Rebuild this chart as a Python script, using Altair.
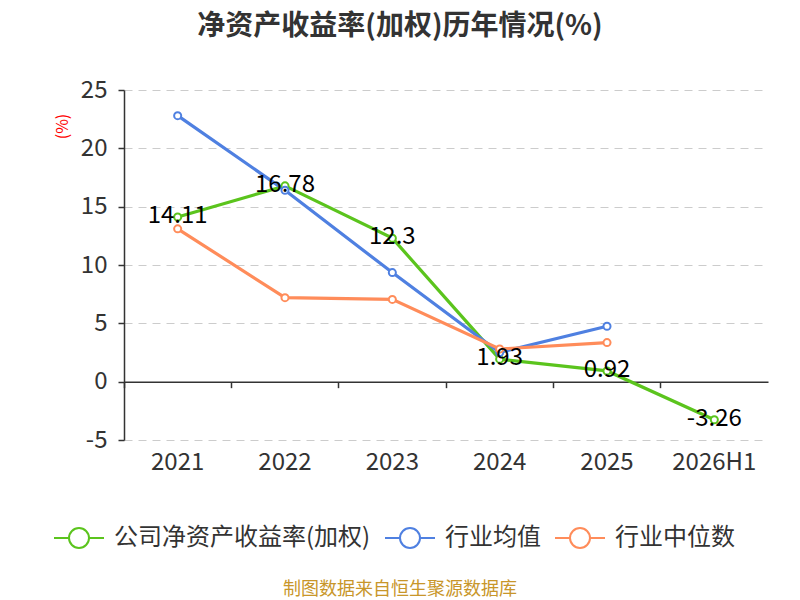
import altair as alt
import pandas as pd

years = ["2021", "2022", "2023", "2024", "2025", "2026H1"]
company = [14.11, 16.78, 12.3, 1.93, 0.92, -3.26]
ind_mean = [22.8, 16.4, 9.35, 2.5, 4.75, None]
ind_median = [13.1, 7.2, 7.05, 2.8, 3.35, None]
series = ["公司净资产收益率(加权)", "行业均值", "行业中位数"]
colors = ["#5bc41d", "#4f80e1", "#ff8c5a"]
y_ticks = [-5, 0, 5, 10, 15, 20, 25]
title_text = "净资产收益率(加权)历年情况(%)"
source_text = "制图数据来自恒生聚源数据库"

rows = []
for name, vals in zip(series, [company, ind_mean, ind_median]):
    for yr, v in zip(years, vals):
        if v is not None:
            rows.append({"year": yr, "series": name, "value": v})
df = pd.DataFrame(rows)
labels_df = pd.DataFrame({"year": years, "value": company,
                          "label": [f"{v:g}" for v in company]})

FONT = "Noto Sans CJK SC"
W, H = 644, 350
zero_px = H * 25 / 30

xscale = alt.Scale(type="band", domain=years, paddingInner=0, paddingOuter=0)
yscale = alt.Scale(domain=[-5, 25], nice=False, zero=False)

yaxis = alt.Axis(values=y_ticks, title="(%)", titleColor="red", titleFontSize=16,
                 titleFontWeight="normal", titleX=-62, titleY=36, titleAngle=-90,
                 titleAlign="center", titleBaseline="middle",
                 labelFontSize=24, labelColor="#333", labelPadding=11,
                 labelExpr="'' + datum.value",
                 tickSize=6, tickColor="#333", tickWidth=1.5,
                 domainColor="#333", domainWidth=1.5,
                 grid=True, gridDash=[8, 6], gridColor="#cccccc", gridWidth=1)

label_axis = alt.Axis(title=None, orient="bottom", domain=False, ticks=False,
                      grid=False, labelFontSize=24, labelColor="#333",
                      labelPadding=10, labelAngle=0, bandPosition=0.5)

zero_axis = alt.Axis(title=None, orient="bottom", offset=-(H - zero_px), labels=False,
                     domain=True, domainColor="#333", domainWidth=1.5,
                     ticks=True, tickSize=6, tickColor="#333", tickWidth=1.5,
                     grid=False, bandPosition=0)

sym = "M-1,0L-0.4,0M0.4,0L1,0M0.4,0A0.4,0.4 0 1,1 -0.4,0A0.4,0.4 0 1,1 0.4,0Z"

lines = alt.Chart(df).mark_line(
    strokeWidth=3.2,
    point=alt.OverlayMarkDef(filled=True, fill="white", size=50, strokeWidth=2),
).encode(
    x=alt.X("year:N", sort=years, scale=xscale, bandPosition=0.5, axis=label_axis),
    y=alt.Y("value:Q", scale=yscale, axis=yaxis),
    stroke=alt.Stroke("series:N", scale=alt.Scale(domain=series, range=colors),
                      legend=alt.Legend(title=None, orient="none", legendX=-71,
                                        legendY=422, direction="horizontal",
                                        symbolType=sym, symbolSize=2500,
                                        symbolStrokeWidth=2, symbolFillColor="white",
                                        labelFontSize=24, labelColor="#333",
                                        labelFont=FONT, labelOffset=9,
                                        labelLimit=400, columnPadding=10)),
    order=alt.value(0),
)

texts = alt.Chart(labels_df).mark_text(
    fontSize=24, color="black", baseline="middle", align="center", dy=-1, font=FONT
).encode(
    x=alt.X("year:N", sort=years, scale=xscale, bandPosition=0.5, axis=zero_axis),
    y=alt.Y("value:Q", scale=yscale),
    text="label:N",
)

source = alt.Chart(pd.DataFrame({"t": [source_text]})).mark_text(
    fontSize=18, color="#c8962a", font=FONT, align="center", baseline="middle"
).encode(text="t:N", x=alt.value(276), y=alt.value(500))

chart = alt.layer(lines, texts, source).resolve_axis(x="independent").properties(
    width=W, height=H,
    title=alt.Title(title_text, fontSize=28, fontWeight="bold", color="#333",
                    anchor="middle", dx=-46, offset=37, font=FONT),
    autosize=alt.AutoSizeParams(type="none"),
    padding={"left": 116, "top": 82, "right": 24, "bottom": 172},
).configure(font=FONT).configure_view(stroke=None)

chart.save("out.html", embed_options={"renderer": "svg", "actions": False})
